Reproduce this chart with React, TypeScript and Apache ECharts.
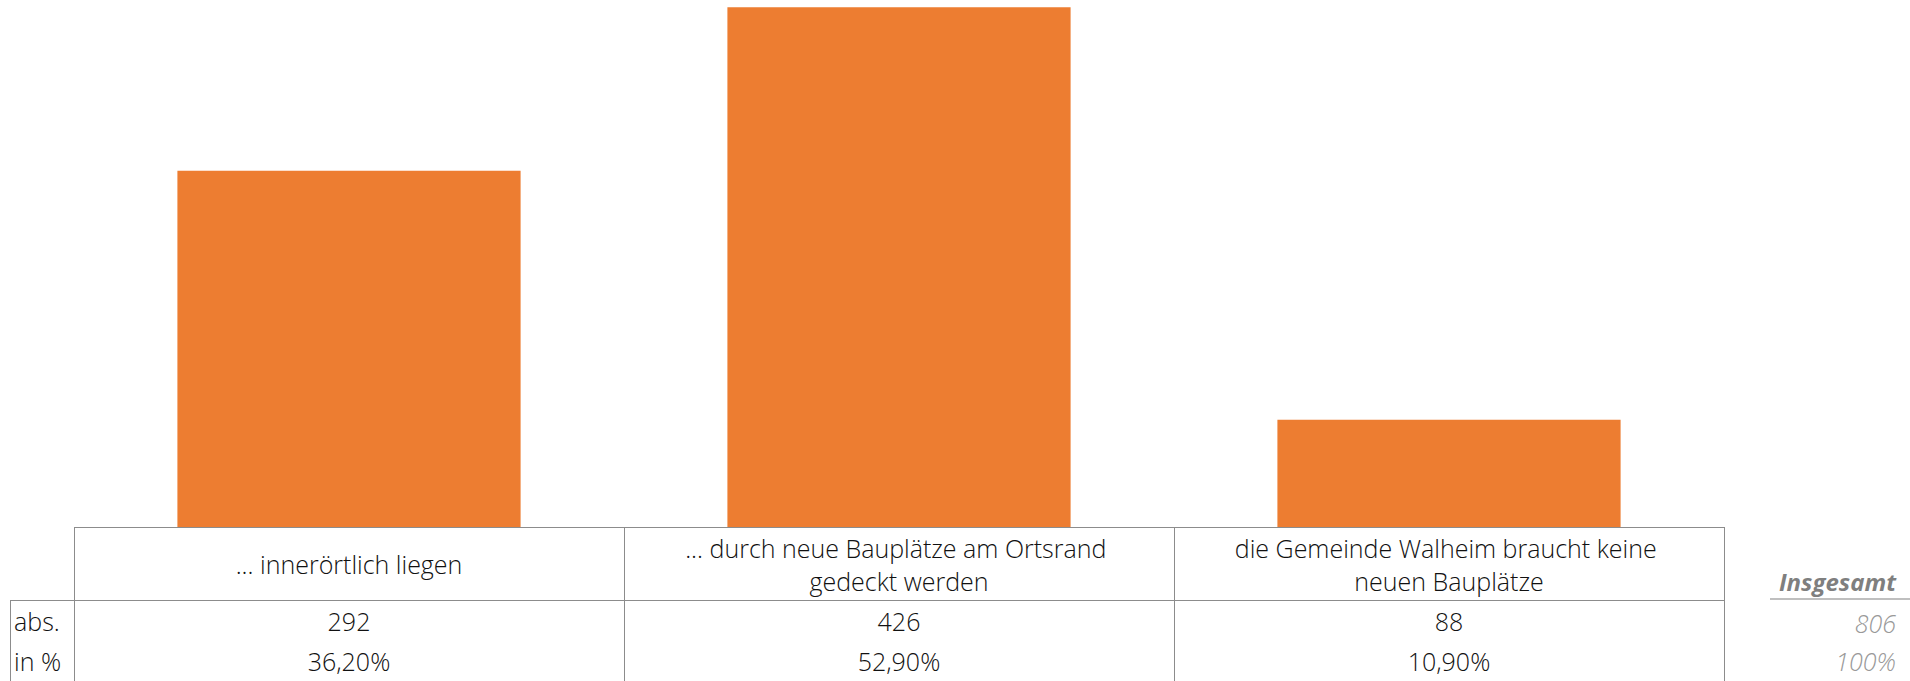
import React, { useEffect, useRef } from "react";
import * as echarts from "echarts";

const categories = [
  "... innerörtlich liegen",
  "... durch neue Bauplätze am Ortsrand gedeckt werden",
  "die Gemeinde Walheim braucht keine neuen Bauplätze",
];
const absValues = [292, 426, 88];
const pctValues = [36.2, 52.9, 10.9];
const rowLabels = ["abs.", "in %"];
const totalLabel = "Insgesamt";
const totalAbs = 806;
const totalPct = "100%";

const W = 1910;
const H = 681;
const GRID_LEFT = 74;
const GRID_RIGHT_X = 1724;
const AXIS_Y = 527;
const HEADER_BOTTOM = 600;
const ROW1_Y = 621;
const ROW2_Y = 661;
const LINE_COLOR = "#8c8c8c";
const FONT = "'Open Sans', Lato, sans-serif";
const FS = 25;

const fmtPct = (v: number) => v.toFixed(2).replace(".", ",") + "%";

export default function App() {
  const ref = useRef<HTMLDivElement>(null);
  useEffect(() => {
    if (!ref.current) return;
    const chart = echarts.init(ref.current, undefined, { renderer: "svg" });
    const lineStyle = { stroke: LINE_COLOR, lineWidth: 1 };
    const colXs = [GRID_LEFT];
    const colW = (GRID_RIGHT_X - GRID_LEFT) / categories.length;
    for (let i = 1; i <= categories.length; i++) colXs.push(Math.round(GRID_LEFT + colW * i) + 0.5);
    const graphics: any[] = [];
    graphics.push({ type: "line", shape: { x1: GRID_LEFT, y1: AXIS_Y + 0.5, x2: GRID_RIGHT_X + 0.5, y2: AXIS_Y + 0.5 }, style: lineStyle, silent: true });
    graphics.push({ type: "line", shape: { x1: 10, y1: HEADER_BOTTOM + 0.5, x2: GRID_RIGHT_X + 0.5, y2: HEADER_BOTTOM + 0.5 }, style: lineStyle, silent: true });
    graphics.push({ type: "line", shape: { x1: 10.5, y1: HEADER_BOTTOM, x2: 10.5, y2: H }, style: lineStyle, silent: true });
    colXs.forEach((x, i) => {
      const xx = i === 0 ? x + 0.5 : x;
      graphics.push({ type: "line", shape: { x1: xx, y1: AXIS_Y, x2: xx, y2: H }, style: lineStyle, silent: true });
    });
    [ROW1_Y, ROW2_Y].forEach((y, i) => {
      graphics.push({
        type: "text",
        x: 14,
        y,
        style: { text: rowLabels[i], fill: "#111", font: `300 ${FS}px ${FONT}`, textAlign: "left", textVerticalAlign: "middle" },
      });
    });
    graphics.push({
      type: "text",
      x: 1896,
      y: 581,
      style: { text: totalLabel, fill: "#7f7f7f", font: `italic bold 24px ${FONT}`, textAlign: "right", textVerticalAlign: "middle" },
    });
    graphics.push({ type: "line", shape: { x1: 1770, y1: 599, x2: W, y2: 599 }, style: { stroke: "#bfbfbf", lineWidth: 2 }, silent: true });
    graphics.push({
      type: "text",
      x: 1896,
      y: ROW1_Y + 2,
      style: { text: String(totalAbs), fill: "#999", font: `italic 300 25px ${FONT}`, textAlign: "right", textVerticalAlign: "middle" },
    });
    graphics.push({
      type: "text",
      x: 1896,
      y: ROW2_Y,
      style: { text: totalPct, fill: "#999", font: `italic 300 25px ${FONT}`, textAlign: "right", textVerticalAlign: "middle" },
    });

    const labelBase = { color: "#111", fontFamily: FONT, fontSize: FS, fontWeight: 300 as any, verticalAlign: "middle" as const };
    const hiddenAxis = { axisLine: { show: false }, axisTick: { show: false }, splitLine: { show: false } };

    chart.setOption({
      animation: false,
      grid: { left: GRID_LEFT, right: W - GRID_RIGHT_X, top: 0, bottom: H - AXIS_Y, containLabel: false },
      xAxis: [
        {
          type: "category",
          data: categories,
          position: "bottom",
          ...hiddenAxis,
          axisLabel: { ...labelBase, margin: 37, width: 460, overflow: "break", lineHeight: 33, interval: 0, align: "center" },
        },
        {
          type: "category",
          data: absValues.map(String),
          position: "bottom",
          ...hiddenAxis,
          axisLabel: { ...labelBase, margin: ROW1_Y - AXIS_Y, interval: 0 },
        },
        {
          type: "category",
          data: pctValues.map(fmtPct),
          position: "bottom",
          ...hiddenAxis,
          axisLabel: { ...labelBase, margin: ROW2_Y - AXIS_Y, interval: 0 },
        },
      ],
      yAxis: { type: "value", min: 0, max: 432, show: false },
      series: [
        {
          type: "bar",
          data: absValues,
          barCategoryGap: "37.6%",
          itemStyle: { color: "#ED7D31" },
        },
      ],
      graphic: graphics,
    });
    return () => chart.dispose();
  }, []);
  return <div ref={ref} style={{ position: "absolute", left: 0, top: 0, width: W, height: H, background: "#fff" }} />;
}
